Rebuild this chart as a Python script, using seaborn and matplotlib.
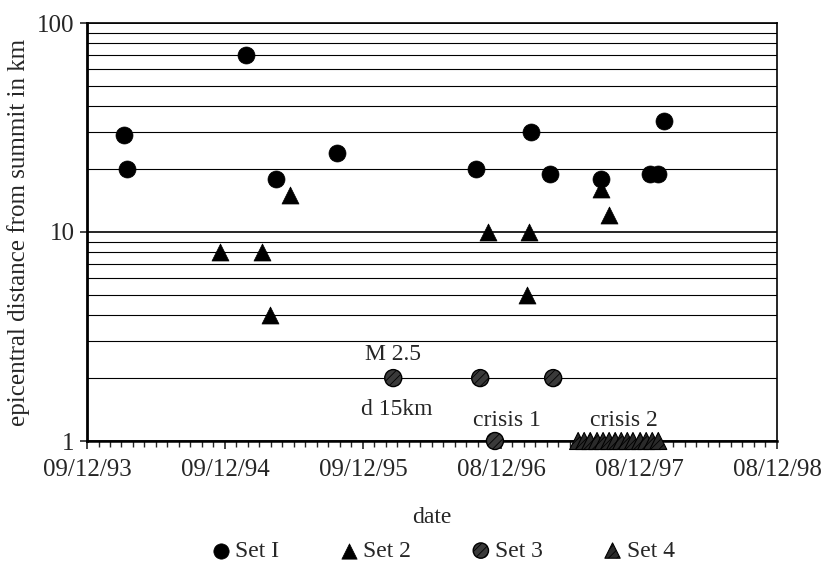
import matplotlib
matplotlib.use("Agg")
import matplotlib.pyplot as plt
import matplotlib.dates as mdates
import seaborn as sns
import pandas as pd
import numpy as np

# ---- data ----
set1_dates = ["1994-03-17", "1994-03-25", "1995-02-03", "1995-04-23", "1995-09-30",
              "1996-10-03", "1997-02-26", "1997-04-17", "1997-08-30", "1998-01-06",
              "1998-01-28", "1998-02-12"]
set1_km = [29, 20, 70, 18, 24, 20, 30, 19, 18, 19, 19, 34]

set2_dates = ["1994-11-26", "1995-03-18", "1995-04-07", "1995-05-30", "1996-11-04",
              "1997-02-20", "1997-02-15", "1997-08-30", "1997-09-20"]
set2_km = [8, 8, 4, 15, 10, 10, 5, 16, 12]

set3_dates = ["1996-02-27", "1996-10-14", "1997-04-25", "1996-11-22"]
set3_km = [2, 2, 2, 1]

set4_dates = ["1997-06-30", "1997-07-16", "1997-08-01", "1997-08-19", "1997-09-04",
              "1997-09-20", "1997-10-06", "1997-10-22", "1997-11-07", "1997-11-22",
              "1997-12-11", "1997-12-27", "1998-01-12", "1998-01-28"]
set4_km = [1] * 14

tick_labels = ["09/12/93", "09/12/94", "09/12/95", "08/12/96", "08/12/97", "08/12/98"]
axis_start = "1993-12-09"

# ---- style ----
sns.set_style("white")
plt.rcParams["font.family"] = ["Liberation Serif", "DejaVu Serif"]
plt.rcParams["hatch.color"] = "white"
plt.rcParams["hatch.linewidth"] = 0.6

fig = plt.figure(figsize=(8.21, 5.65), dpi=100)
ax = fig.add_axes([87 / 821, 1 - 441 / 565, (777 - 87) / 821, (441 - 23) / 565])

def df(d, v):
    return pd.DataFrame({"date": pd.to_datetime(d), "km": v})

sns.scatterplot(data=df(set1_dates, set1_km), x="date", y="km", ax=ax, marker="o",
                color="black", s=150, edgecolor="black", linewidth=0.5, label="Set I", zorder=5)
sns.scatterplot(data=df(set2_dates, set2_km), x="date", y="km", ax=ax, marker="^",
                color="black", s=150, edgecolor="black", linewidth=0.5, label="Set 2", zorder=5)
sns.scatterplot(data=df(set3_dates, set3_km), x="date", y="km", ax=ax, marker="o",
                color="#3a3a3a", s=150, edgecolor="black", linewidth=1.0, label="Set 3",
                zorder=6, clip_on=False)
sns.scatterplot(data=df(set4_dates, set4_km), x="date", y="km", ax=ax, marker="^",
                color="#2a2a2a", s=150, edgecolor="black", linewidth=0.8, label="Set 4",
                zorder=6, clip_on=False)

for coll in ax.collections[2:]:
    coll.set_hatch("////")

ax.set_yscale("log")
ax.set_ylim(1, 100)
ax.set_yticks([1, 10, 100])
ax.set_yticklabels(["1", "10", "100"])
ax.yaxis.set_minor_locator(matplotlib.ticker.LogLocator(base=10, subs=np.arange(2, 10)))
ax.yaxis.set_minor_formatter(matplotlib.ticker.NullFormatter())

start = pd.Timestamp(axis_start)
majors = [mdates.date2num(start + pd.Timedelta(days=365 * k)) for k in range(6)]
ax.set_xlim(majors[0], majors[-1])
ax.set_xticks(majors)
ax.set_xticklabels(tick_labels)
ax.xaxis.set_minor_locator(matplotlib.ticker.FixedLocator(
    np.arange(majors[0], majors[-1] + 1, 365 / 12)))

ax.grid(True, which="major", axis="y", color="black", linewidth=1.2)
ax.grid(True, which="minor", axis="y", color="black", linewidth=0.8)
ax.set_axisbelow(True)

for sp in ax.spines.values():
    sp.set_color("black")
    sp.set_linewidth(1.2)
ax.spines["left"].set_linewidth(2.0)
ax.spines["bottom"].set_linewidth(1.8)

ax.tick_params(axis="x", which="major", direction="out", length=6, width=1.2,
               labelsize=18, pad=7, bottom=True)
ax.tick_params(axis="x", which="minor", direction="out", length=4, width=1.0, bottom=True)
ax.tick_params(axis="y", which="major", direction="out", length=5, width=1.2,
               labelsize=18, left=True, pad=4)
ax.tick_params(axis="y", which="minor", length=0)

ax.set_xlabel("date", fontsize=17, labelpad=19)
ax.set_ylabel("epicentral distance from summit in km", fontsize=18, labelpad=5)

def xd(s):
    return mdates.date2num(pd.Timestamp(s))

ax.text(xd("1996-02-27"), 2.6, "M 2.5", ha="center", va="center", fontsize=17)
ax.text(xd("1996-03-08"), 1.42, "d 15km", ha="center", va="center", fontsize=17)
ax.text(xd("1996-12-23"), 1.26, "crisis 1", ha="center", va="center", fontsize=17)
ax.text(xd("1997-10-30"), 1.26, "crisis 2", ha="center", va="center", fontsize=17)

ax.get_legend().remove()
handles, labels = ax.get_legend_handles_labels()
fig.legend(handles, labels, loc="center", bbox_to_anchor=(0.537, 1 - 551 / 565), ncol=4,
           frameon=False, fontsize=17, handletextpad=0.0, columnspacing=2.35,
           markerscale=0.9, borderpad=0, handlelength=1.2)

fig.savefig("out.png", dpi=100)
